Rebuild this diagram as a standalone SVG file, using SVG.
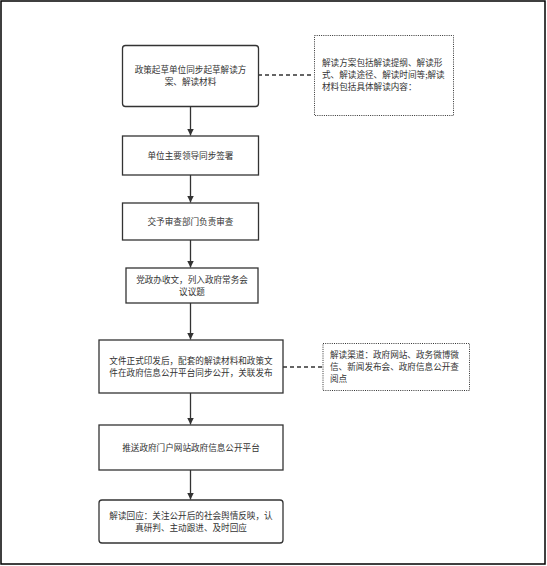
<svg xmlns="http://www.w3.org/2000/svg" width="547" height="566" viewBox="0 0 547 566">
<style>
.box{fill:#fff;stroke:#333;stroke-width:1.3}
.note{fill:#fff;stroke:#333;stroke-width:1;stroke-dasharray:1 1.2}
.t{font-family:"Noto Sans CJK SC","Noto Sans",sans-serif;font-size:8.6px;fill:#333}
.c{text-anchor:middle}
.edge{stroke:#333;stroke-width:1.3;fill:none}
.dash{stroke:#333;stroke-width:1.3;fill:none;stroke-dasharray:4 3}
</style>
<defs>
<marker id="arr" markerWidth="7" markerHeight="8" refX="7" refY="4" orient="auto" markerUnits="userSpaceOnUse">
<path d="M0,0.5 L7,4 L0,7.5 Z" fill="#333"/>
</marker>
</defs>
<rect x="1" y="1" width="544" height="563" fill="#fff" stroke="#000" stroke-width="1.5"/>
<g id="connectors">
<line class="edge" x1="190.5" y1="106" x2="190.5" y2="135.5" marker-end="url(#arr)"/>
<line class="edge" x1="190.5" y1="175" x2="190.5" y2="202.5" marker-end="url(#arr)"/>
<line class="edge" x1="190.5" y1="240" x2="190.5" y2="267.5" marker-end="url(#arr)"/>
<line class="edge" x1="190.5" y1="303" x2="190.5" y2="339.5" marker-end="url(#arr)"/>
<line class="edge" x1="190.5" y1="393" x2="190.5" y2="424.5" marker-end="url(#arr)"/>
<line class="edge" x1="190.5" y1="470" x2="190.5" y2="499.5" marker-end="url(#arr)"/>
<line class="dash" x1="258" y1="75" x2="314" y2="75"/>
<line class="dash" x1="283" y1="367" x2="323" y2="367"/>
</g>
<g id="n1">
<rect class="box" x="122.5" y="45.5" width="136" height="61" rx="3"/>
<text class="t c" x="190.5" y="72.7">政策起草单位同步起草解读方</text>
<text class="t c" x="190.5" y="84.7">案、解读材料</text>
</g>
<g id="note1">
<rect class="note" x="314.5" y="35.5" width="139" height="80"/>
<text class="t" x="322" y="66.2">解读方案包括解读提纲、解读形</text>
<text class="t" x="322" y="78.2">式、解读途径、解读时间等;解读</text>
<text class="t" x="322" y="90.2">材料包括具体解读内容：</text>
</g>
<g id="n2">
<rect class="box" x="122.5" y="136" width="136" height="39"/>
<text class="t c" x="190.5" y="158.7">单位主要领导同步签署</text>
</g>
<g id="n3">
<rect class="box" x="122.5" y="203" width="136" height="37"/>
<text class="t c" x="190.5" y="224.7">交予审查部门负责审查</text>
</g>
<g id="n4">
<rect class="box" x="126" y="268" width="132" height="35"/>
<text class="t c" x="192" y="282.7">党政办收文，列入政府常务会</text>
<text class="t c" x="192" y="294.7">议议题</text>
</g>
<g id="n5">
<rect class="box" x="99" y="340" width="184" height="53"/>
<text class="t c" x="191" y="363.7">文件正式印发后，配套的解读材料和政策文</text>
<text class="t c" x="191" y="375.7">件在政府信息公开平台同步公开，关联发布</text>
</g>
<g id="note2">
<rect class="note" x="323" y="343.5" width="146.5" height="47"/>
<text class="t" x="330" y="358.2">解读渠道：政府网站、政务微博微</text>
<text class="t" x="330" y="370.2">信、新闻发布会、政府信息公开查</text>
<text class="t" x="330" y="382.2">阅点</text>
</g>
<g id="n6">
<rect class="box" x="99" y="425" width="184" height="45"/>
<text class="t c" x="191" y="450.7">推送政府门户网站政府信息公开平台</text>
</g>
<g id="n7">
<rect class="box" x="99" y="500" width="184" height="43" rx="3"/>
<text class="t c" x="191" y="518.7">解读回应：关注公开后的社会舆情反映，认</text>
<text class="t c" x="191" y="530.7">真研判、主动跟进、及时回应</text>
</g>
</svg>
